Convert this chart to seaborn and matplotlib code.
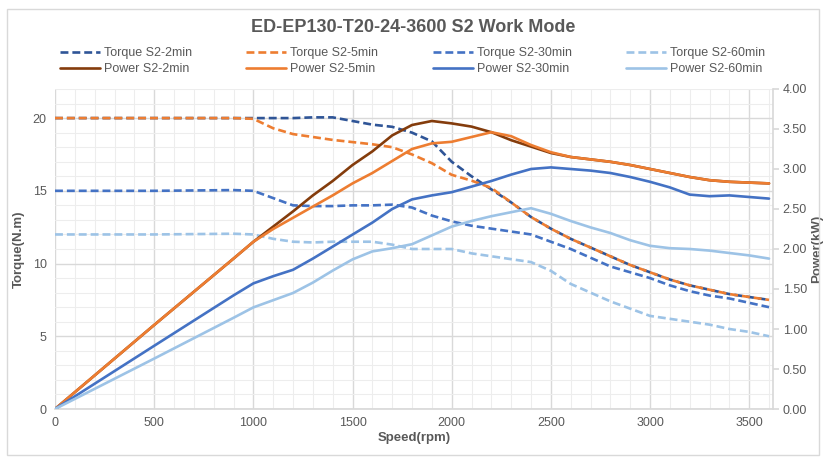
import matplotlib
matplotlib.use("Agg")
import matplotlib.pyplot as plt
from matplotlib.ticker import MultipleLocator, FormatStrFormatter
from matplotlib.patches import Rectangle
import seaborn as sns
import pandas as pd

sns.set_theme(style="white")
plt.rcParams['font.family'] = ['Liberation Sans Narrow', 'Liberation Sans', 'DejaVu Sans']

# speed axis (rpm)
speed = [0, 500, 900, 1000, 1100, 1200, 1300, 1400, 1500, 1600, 1700, 1800, 1900, 2000, 2100,
         2200, 2300, 2400, 2500, 2600, 2700, 2800, 2900, 3000, 3100, 3200, 3300, 3400, 3500, 3600]

# torque (N.m)
torque_2min = [20, 20, 20, 20, 20, 20, 20.05, 20.05, 19.8, 19.55, 19.4, 19.0, 18.4, 17.0, 16.0,
               15.1, 14.2, 13.2, 12.4, 11.7, 11.1, 10.5, 9.9, 9.4, 8.9, 8.5, 8.2, 7.9, 7.7, 7.5]
torque_5min = [20, 20, 20, 19.95, 19.3, 18.9, 18.7, 18.5, 18.35, 18.2, 18.0, 17.5, 16.9, 16.1, 15.7,
               15.2, 14.2, 13.2, 12.4, 11.7, 11.1, 10.5, 9.9, 9.4, 8.9, 8.5, 8.2, 7.9, 7.7, 7.5]
torque_30min = [15, 15, 15.05, 15, 14.5, 14.0, 13.95, 13.95, 14.0, 14.0, 14.05, 13.85, 13.3, 12.9, 12.6,
                12.4, 12.2, 12.0, 11.5, 11.0, 10.4, 9.8, 9.4, 9.0, 8.5, 8.1, 7.8, 7.6, 7.3, 7.0]
torque_60min = [12, 12, 12.05, 12.0, 11.7, 11.5, 11.45, 11.5, 11.5, 11.5, 11.3, 11.0, 11.0, 11.0, 10.7,
                10.5, 10.3, 10.1, 9.5, 8.6, 8.0, 7.4, 6.9, 6.4, 6.2, 6.0, 5.8, 5.5, 5.3, 5.0]

# power (kW)
power_2min = [0, 1.05, 1.88, 2.09, 2.28, 2.47, 2.67, 2.85, 3.05, 3.22, 3.42, 3.55, 3.6, 3.57, 3.53,
              3.46, 3.36, 3.28, 3.2, 3.15, 3.12, 3.09, 3.05, 3.0, 2.95, 2.9, 2.86, 2.84, 2.83, 2.82]
power_5min = [0, 1.05, 1.88, 2.09, 2.25, 2.39, 2.53, 2.67, 2.82, 2.95, 3.1, 3.25, 3.32, 3.34, 3.4,
              3.46, 3.41, 3.3, 3.21, 3.15, 3.12, 3.09, 3.05, 3.0, 2.95, 2.9, 2.86, 2.84, 2.83, 2.82]
power_30min = [0, 0.79, 1.42, 1.57, 1.66, 1.74, 1.88, 2.03, 2.18, 2.33, 2.5, 2.62, 2.67, 2.71, 2.78,
               2.85, 2.93, 3.0, 3.02, 3.0, 2.98, 2.95, 2.9, 2.84, 2.77, 2.68, 2.66, 2.67, 2.65, 2.63]
power_60min = [0, 0.63, 1.14, 1.27, 1.36, 1.45, 1.58, 1.73, 1.87, 1.97, 2.01, 2.06, 2.17, 2.28, 2.35,
               2.41, 2.46, 2.51, 2.44, 2.35, 2.27, 2.2, 2.11, 2.04, 2.01, 2.0, 1.98, 1.95, 1.92, 1.88]

torque_series = [("Torque S2-2min", torque_2min, "#2F5597"),
                 ("Torque S2-5min", torque_5min, "#ED7D31"),
                 ("Torque S2-30min", torque_30min, "#4472C4"),
                 ("Torque S2-60min", torque_60min, "#9DC3E6")]
power_series = [("Power S2-2min", power_2min, "#843C0C"),
                ("Power S2-5min", power_5min, "#ED7D31"),
                ("Power S2-30min", power_30min, "#4472C4"),
                ("Power S2-60min", power_60min, "#9DC3E6")]

text_col = "#595959"
grid_col = "#D9D9D9"

fig = plt.figure(figsize=(8.27, 4.63), dpi=100)
ax = fig.add_axes([55/827, 54/463, 718/827, 320/463])
ax2 = ax.twinx()

handles = {}
for name, vals, col in torque_series:
    df = pd.DataFrame({"speed": speed, "val": vals})
    sns.lineplot(data=df, x="speed", y="val", ax=ax, color=col, linewidth=1.9, label=name)
    line = ax.lines[-1]
    line.set_dashes((3, 1.5))
    handles[name] = line

for name, vals, col in power_series:
    df = pd.DataFrame({"speed": speed, "val": vals})
    sns.lineplot(data=df, x="speed", y="val", ax=ax2, color=col, linewidth=1.9, label=name)
    handles[name] = ax2.lines[-1]

if ax.get_legend():
    ax.get_legend().remove()
if ax2.get_legend():
    ax2.get_legend().remove()

ax.set_xlim(0, 3620)
ax.set_ylim(0, 22)
ax2.set_ylim(0, 4)

ax.xaxis.set_major_locator(MultipleLocator(500))
ax.xaxis.set_minor_locator(MultipleLocator(100))
ax.yaxis.set_major_locator(MultipleLocator(5))
ax.yaxis.set_minor_locator(MultipleLocator(1))
ax2.yaxis.set_major_locator(MultipleLocator(0.5))
ax2.yaxis.set_major_formatter(FormatStrFormatter("%.2f"))

ax.grid(True, which="major", color=grid_col, linewidth=1.0)
ax.grid(True, which="minor", color="#EDEDED", linewidth=0.8)
ax.set_axisbelow(True)

for sp in ["top", "left", "right"]:
    ax.spines[sp].set_visible(False)
    ax2.spines[sp].set_visible(False)
ax.spines["bottom"].set_color(grid_col)
ax2.spines["bottom"].set_visible(False)
ax2.spines["right"].set_visible(True)
ax2.spines["right"].set_color(grid_col)

ax.tick_params(axis="both", which="both", length=0, colors=text_col, labelsize=9, pad=6)
ax2.tick_params(axis="y", which="major", length=4, color=grid_col, labelcolor=text_col, labelsize=9, pad=3)

ax.set_xlabel("Speed(rpm)", fontsize=9.5, fontweight="bold", color=text_col, labelpad=2)
ax.set_ylabel("Torque(N.m)", fontsize=9.5, fontweight="bold", color=text_col)
ax2.set_ylabel("Power(kW)", fontsize=9.5, fontweight="bold", color=text_col)
ax.yaxis.set_label_coords(-30/718, 0.5)
ax2.yaxis.set_label_coords(1 + 38/718, 0.5)

fig.suptitle("ED-EP130-T20-24-3600 S2 Work Mode", x=413/827, y=1 - 28/463, va="center",
             fontsize=13, fontweight="bold", color=text_col)

order = ["Torque S2-2min", "Power S2-2min", "Torque S2-5min", "Power S2-5min",
         "Torque S2-30min", "Power S2-30min", "Torque S2-60min", "Power S2-60min"]
fig.legend([handles[k] for k in order], order, ncol=4, mode="expand", frameon=False,
           bbox_to_anchor=(55/827, 1 - 80/463, 715/827, 45/463), loc="lower left",
           fontsize=9, labelcolor=text_col, handlelength=3.2, handletextpad=0.3,
           borderaxespad=0, labelspacing=0.3)

fig.patches.append(Rectangle((7/827, 8/463), 812/827, 446/463, transform=fig.transFigure,
                             fill=False, edgecolor=grid_col, linewidth=1))

fig.savefig("out.png", dpi=100)
